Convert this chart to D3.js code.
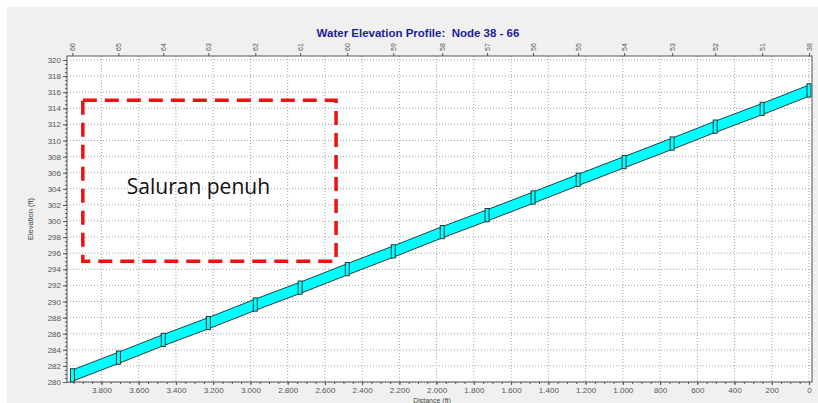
<!DOCTYPE html>
<html>
<head>
<meta charset="utf-8">
<script src="https://cdn.jsdelivr.net/npm/d3@7"></script>
<style>
  body { margin: 0; background: #fff; }
  svg { display: block; font-family: "Liberation Sans", Arial, sans-serif; }
</style>
</head>
<body>
<svg width="818" height="403"></svg>
<script>
// Nodes along the profile (distance from node 38, ft) and invert elevations (ft)
const nodes = ['66', '65', '64', '63', '62', '61', '60', '59', '58', '57', '56', '55', '54', '53', '52', '51', '38']
const distances = [3956, 3709, 3468, 3226, 2974, 2733, 2480, 2233, 1970, 1729, 1482, 1240, 993, 735, 504, 252, 0]
const inverts = [280.1, 282.3, 284.5, 286.6, 288.9, 291.0, 293.3, 295.5, 297.9, 300.0, 302.2, 304.4, 306.6, 308.9, 311.0, 313.2, 315.5]
const pipeDiameter = 1.4
// water surface = crown, the channel is running full
const waterDepth = [1.4, 1.4, 1.4, 1.4, 1.4, 1.4, 1.4, 1.4, 1.4, 1.4, 1.4, 1.4, 1.4, 1.4, 1.4, 1.4, 1.4]

const xTicks = [3800, 3600, 3400, 3200, 3000, 2800, 2600, 2400, 2200, 2000, 1800, 1600, 1400, 1200, 1000, 800, 600, 400, 200, 0]
const yTicks = [280, 282, 284, 286, 288, 290, 292, 294, 296, 298, 300, 302, 304, 306, 308, 310, 312, 314, 316, 318, 320]

// annotation box in data units: [distance from, distance to], [elev from, elev to]
const boxDistance = [3900, 2540]
const boxElevation = [295, 315]
const boxLabel = 'Saluran penuh'

const svg = d3.select('svg')
const W = 818, H = 403
const plot = { left: 67, right: 812, top: 56, bottom: 382 }

// grey panel
svg.append('rect').attr('x', 7).attr('y', 7).attr('width', W - 7).attr('height', H - 7).attr('fill', '#f0f0f0')

const x = d3.scaleLinear().domain([3985, -16]).range([plot.left, plot.right])
const y = d3.scaleLinear().domain([280, 320.5]).range([plot.bottom, plot.top])

svg.append('rect')
  .attr('x', plot.left).attr('y', plot.top)
  .attr('width', plot.right - plot.left).attr('height', plot.bottom - plot.top)
  .attr('fill', '#fff')

const nf = d3.formatLocale({ decimal: ',', thousands: '.', grouping: [3], currency: ['', ''] }).format(',')

// grid
const grid = svg.append('g').attr('stroke', '#8a8a9a').attr('stroke-width', 0.8).attr('stroke-dasharray', '1,2')
grid.selectAll('.gx').data(xTicks).join('line')
  .attr('x1', d => x(d)).attr('x2', d => x(d))
  .attr('y1', plot.top).attr('y2', plot.bottom)
grid.selectAll('.gy').data(yTicks).join('line')
  .attr('x1', plot.left).attr('x2', plot.right)
  .attr('y1', d => y(d)).attr('y2', d => y(d))

// pipe band
const idx = d3.range(nodes.length)
const area = d3.area()
  .x(i => x(distances[i]))
  .y0(i => y(inverts[i]))
  .y1(i => y(inverts[i] + waterDepth[i]))
svg.append('path').datum(idx).attr('d', area).attr('fill', '#00ffff')
svg.append('path').datum(idx)
  .attr('d', d3.line().x(i => x(distances[i])).y(i => y(inverts[i])))
  .attr('fill', 'none').attr('stroke', '#1a2a2a').attr('stroke-width', 0.9)
svg.append('path').datum(idx)
  .attr('d', d3.line().x(i => x(distances[i])).y(i => y(inverts[i] + pipeDiameter)))
  .attr('fill', 'none').attr('stroke', '#1a2a2a').attr('stroke-width', 0.9)

// manholes at nodes
svg.append('g').selectAll('rect').data(idx).join('rect')
  .attr('x', i => x(distances[i]) - 2)
  .attr('y', i => y(inverts[i] + pipeDiameter + 0.15))
  .attr('width', 4)
  .attr('height', i => y(inverts[i] - 0.1) - y(inverts[i] + pipeDiameter + 0.15))
  .attr('fill', '#00ffff').attr('stroke', '#1a2a2a').attr('stroke-width', 0.9)

// frame
svg.append('rect')
  .attr('x', plot.left).attr('y', plot.top)
  .attr('width', plot.right - plot.left).attr('height', plot.bottom - plot.top)
  .attr('fill', 'none').attr('stroke', '#555').attr('stroke-width', 1)

// axes
const xAxis = svg.append('g').attr('transform', `translate(0,${plot.bottom})`)
  .call(d3.axisBottom(x).tickValues(xTicks).tickFormat(nf).tickSize(3).tickPadding(2))
const xMinor = svg.append('g').attr('transform', `translate(0,${plot.bottom})`)
  .call(d3.axisBottom(x).tickValues(d3.range(3950, -1, -50)).tickFormat('').tickSize(2))
const yAxis = svg.append('g').attr('transform', `translate(${plot.left},0)`)
  .call(d3.axisLeft(y).tickValues(yTicks).tickSize(4).tickPadding(2))
const yMinor = svg.append('g').attr('transform', `translate(${plot.left},0)`)
  .call(d3.axisLeft(y).tickValues(d3.range(280, 320.5, 0.5)).tickFormat('').tickSize(2))
const topAxis = svg.append('g').attr('transform', `translate(0,${plot.top})`)
  .call(d3.axisTop(x).tickValues(distances).tickFormat((d, i) => nodes[i]).tickSize(3).tickPadding(3))
topAxis.selectAll('text')
  .attr('transform', 'rotate(-90)')
  .attr('text-anchor', 'start').attr('dy', '0.32em').attr('x', 5).attr('y', 0)

;[xAxis, xMinor, yAxis, yMinor, topAxis].forEach(g => {
  g.select('.domain').remove()
  g.selectAll('line').attr('stroke', '#555')
  g.selectAll('text').attr('fill', '#555').attr('font-size', 8).attr('font-family', '"Liberation Sans", Arial, sans-serif')
})
topAxis.selectAll('text').attr('font-size', 7)

// titles
svg.append('text').attr('x', 418).attr('y', 37).attr('text-anchor', 'middle')
  .style('white-space', 'pre')
  .attr('font-size', 11.5).attr('font-weight', 'bold').attr('fill', '#1d1d98')
  .text('Water Elevation Profile:  Node 38 - 66')
svg.append('text').attr('transform', `translate(33,${(plot.top + plot.bottom) / 2}) rotate(-90)`)
  .attr('text-anchor', 'middle').attr('font-size', 7.5).attr('fill', '#444').text('Elevation (ft)')
svg.append('text').attr('x', 432).attr('y', 402.5).attr('text-anchor', 'middle')
  .attr('font-size', 7).attr('fill', '#444').text('Distance (ft)')

// annotation
svg.append('rect')
  .attr('x', x(boxDistance[0])).attr('y', y(boxElevation[1]))
  .attr('width', x(boxDistance[1]) - x(boxDistance[0]))
  .attr('height', y(boxElevation[0]) - y(boxElevation[1]))
  .attr('fill', 'none').attr('stroke', '#f01010').attr('stroke-width', 3.5)
  .attr('stroke-dasharray', '14,8')
svg.append('text')
  .attr('x', x(boxDistance[0]) + 44).attr('y', y((boxElevation[0] + boxElevation[1]) / 2) + 13)
  .attr('font-family', '"Open Sans", sans-serif').attr('font-size', 21).attr('fill', '#111')
  .text(boxLabel)
</script>
</body>
</html>
